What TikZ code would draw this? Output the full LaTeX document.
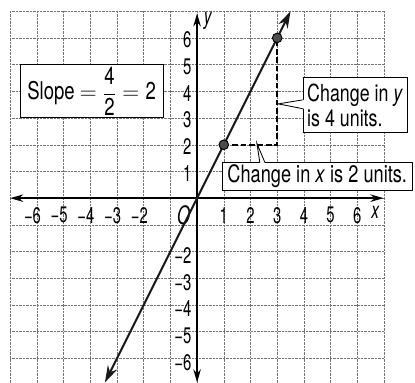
\documentclass[tikz,border=0pt]{standalone}
\usepackage{amsmath}
\usepackage{fontspec}
\setmainfont[FakeStretch=0.76]{TeX Gyre Heros}
\newfontfamily\tickfont[FakeStretch=0.66]{TeX Gyre Heros}
\usetikzlibrary{arrows.meta}

\begin{document}
\begin{tikzpicture}[
  gridline/.style={black!55,line width=0.5pt,densely dotted},
  axisline/.style={line width=1.8pt,{Stealth[length=14pt,width=8pt]}-{Stealth[length=14pt,width=8pt]}},
  slopeline/.style={line width=2.2pt,black!90,{Stealth[length=18pt,width=11pt]}-{Stealth[length=18pt,width=11pt]}},
  runrise/.style={line width=2pt,dash pattern=on 6pt off 3pt},
  ptdot/.style={circle,draw=black,fill=black!70,line width=1pt,inner sep=0pt,minimum size=0.36cm},
  ticklab/.style={font=\tickfont\fontsize{24}{26}\selectfont,inner sep=1pt},
  callbox/.style={draw,fill=white,line width=0.9pt,font=\fontsize{25}{26}\selectfont,inner sep=2pt}
]
\useasboundingbox (-7.38,-6.92) rectangle (8.16,7.42);

% grid
\draw[gridline] (-7,-6.92) grid (7,7);

% axes
\coordinate (xleft) at (-7,0);
\coordinate (xright) at (6.98,0);
\coordinate (ybottom) at (0,-6.9);
\coordinate (ytop) at (0,6.92);
\draw[axisline] (xleft) -- (xright);
\draw[axisline] (ybottom) -- (ytop);
\node[font=\tickfont\fontsize{25}{26}\selectfont\itshape] (xname) at (6.67,-0.52) {x};
\node[font=\tickfont\fontsize{25}{26}\selectfont\itshape] (yname) at (0.4,6.62) {y};
\node[font=\tickfont\fontsize{27}{28}\selectfont\itshape] (orig) at (-0.5,-0.63) {O};

% tick labels
\foreach \k in {1,...,6}
  \node[ticklab] (xp\k) at (\k,-0.64) {\k};
\foreach \k in {2,...,6}
  \node[ticklab] (xm\k) at (-\k,-0.64) {\llap{−}\k};
\foreach \k in {1,...,6}
  \node[ticklab,anchor=east] (yp\k) at (-0.17,\k-0.07) {\k};
\foreach \k in {2,...,6}
  \node[ticklab,anchor=east] (ym\k) at (-0.17,-\k-0.15) {−\k};

% the line y = 2x
\coordinate (lnlow) at (-3.45,-6.9);
\coordinate (lnhigh) at (3.5,7);
\draw[slopeline] (lnlow) -- (lnhigh);

% run and rise
\coordinate (corner) at (3,2);
\draw[runrise] (1,2) -- (corner) -- (3,6);
\node[ptdot] (ptA) at (1,2) {};
\node[ptdot] (ptB) at (3,6) {};

% boxes
\node[callbox,font=\fontsize{26}{27}\selectfont,minimum width=5.36cm,minimum height=1.77cm] (slope) at (-3.95,4.0)
  {Slope $=\dfrac{\text{4}}{\text{2}}=\text{2}$};
\node[callbox,align=left,minimum width=3.9cm,minimum height=2.07cm] (ybox) at (5.92,3.48)
  {Change in \textit{y}\\is 4 units.};
\node[callbox,font=\fontsize{25.5}{27}\selectfont,minimum width=7.11cm,minimum height=1.02cm] (xbox) at (4.5,0.81)
  {Change in \textit{x} is 2 units.};

% pointers
\coordinate (ytip) at (3.04,3.53);
\fill[white] ([xshift=1.5pt,yshift=0.2cm]ybox.west) -- ([yshift=0.2cm]ybox.west) -- (ytip)
  -- ([yshift=-0.13cm]ybox.west) -- ([xshift=1.5pt,yshift=-0.13cm]ybox.west) -- cycle;
\draw[line width=0.9pt] ([yshift=0.2cm]ybox.west) -- (ytip) -- ([yshift=-0.13cm]ybox.west);

\coordinate (xtip) at (2.24,2.05);
\fill[white] ([xshift=1.42cm,yshift=-1.5pt]xbox.north west) -- ([xshift=1.42cm]xbox.north west) -- (xtip)
  -- ([xshift=1.61cm]xbox.north west) -- ([xshift=1.61cm,yshift=-1.5pt]xbox.north west) -- cycle;
\draw[line width=0.9pt] ([xshift=1.42cm]xbox.north west) -- (xtip) -- ([xshift=1.61cm]xbox.north west);
\end{tikzpicture}
\end{document}
